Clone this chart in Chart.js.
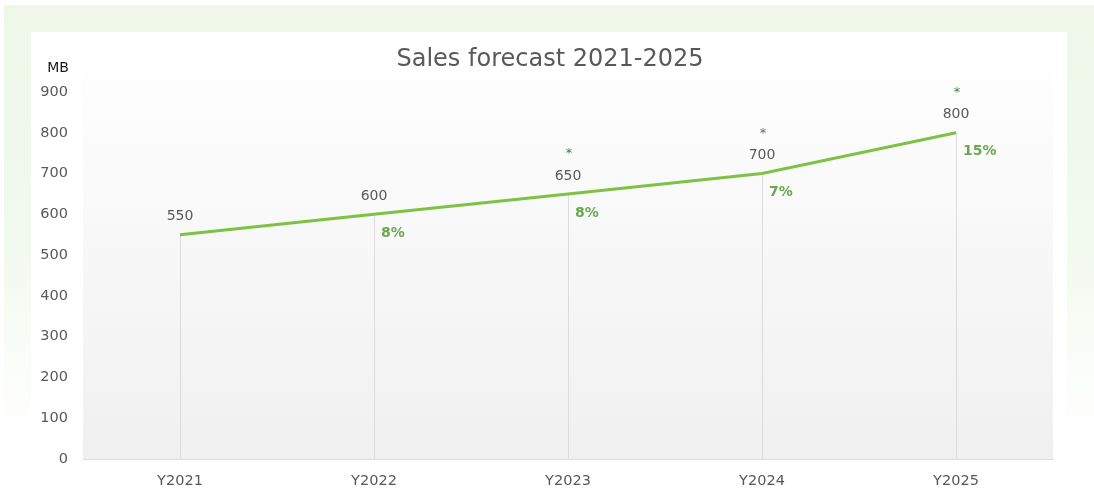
<!DOCTYPE html>
<html>
<head>
<meta charset="utf-8">
<script src="https://cdn.jsdelivr.net/npm/chart.js@4.4.0/dist/chart.umd.min.js"></script>
<style>
  html, body { margin: 0; padding: 0; background: #ffffff; }
  #wrap { width: 1094px; height: 488px; position: relative; }
</style>
</head>
<body>
<div id="wrap"><canvas id="c" width="1094" height="488"></canvas></div>
<script>
const categories = ['Y2021', 'Y2022', 'Y2023', 'Y2024', 'Y2025'];
const salesValues = [550, 600, 650, 700, 800];
const growthLabels = ['', '8%', '8%', '7%', '15%'];
const starMarks = ['', '', '*', '*', '*'];
const yTicks = [0, 100, 200, 300, 400, 500, 600, 700, 800, 900];

const FONT = '"DejaVu Sans", sans-serif';

const decorPlugin = {
  id: 'decor',
  beforeDraw(chart) {
    const ctx = chart.ctx;
    const W = chart.width, H = chart.height;
    const ca = chart.chartArea;
    ctx.save();
    ctx.fillStyle = '#ffffff';
    ctx.fillRect(0, 0, W, H);
    // outer green glow
    let g = ctx.createLinearGradient(0, 5, 0, 440);
    g.addColorStop(0, '#eef7e8');
    g.addColorStop(0.55, '#f2f9ee');
    g.addColorStop(1, '#ffffff');
    ctx.fillStyle = g;
    ctx.fillRect(4, 5, W - 4, H - 5);
    // white panel
    ctx.fillStyle = '#ffffff';
    ctx.fillRect(31, 32, 1036, H - 32);
    // plot area gradient
    g = ctx.createLinearGradient(0, 42, 0, ca.bottom);
    g.addColorStop(0, '#ffffff');
    g.addColorStop(1, '#f0f0f0');
    ctx.fillStyle = g;
    ctx.fillRect(ca.left, 42, ca.right - ca.left, ca.bottom - 42);
    // title
    ctx.fillStyle = '#595959';
    ctx.font = '24px ' + FONT;
    ctx.textAlign = 'center';
    ctx.textBaseline = 'middle';
    ctx.fillText('Sales forecast 2021-2025', 550, 60);
    // unit label
    ctx.fillStyle = '#1a1a1a';
    ctx.font = '14px ' + FONT;
    ctx.fillText('MB', 58, 68);
    ctx.restore();
  },
  beforeDatasetsDraw(chart) {
    const ctx = chart.ctx;
    const meta = chart.getDatasetMeta(0);
    const bottom = chart.chartArea.bottom;
    ctx.save();
    ctx.strokeStyle = '#dcdcdc';
    ctx.lineWidth = 1;
    meta.data.forEach((pt) => {
      const x = Math.round(pt.x) + 0.5;
      ctx.beginPath();
      ctx.moveTo(x, pt.y);
      ctx.lineTo(x, bottom);
      ctx.stroke();
    });
    ctx.restore();
  },
  afterDatasetsDraw(chart) {
    const ctx = chart.ctx;
    const meta = chart.getDatasetMeta(0);
    ctx.save();
    ctx.textBaseline = 'middle';
    meta.data.forEach((pt, i) => {
      // value label
      ctx.fillStyle = '#595959';
      ctx.font = '14px ' + FONT;
      ctx.textAlign = 'center';
      ctx.fillText(String(salesValues[i]), pt.x, pt.y - 18);
      // growth label
      if (growthLabels[i]) {
        ctx.fillStyle = '#6aa84f';
        ctx.font = 'bold 14px ' + FONT;
        ctx.textAlign = 'left';
        ctx.fillText(growthLabels[i], pt.x + 7, pt.y + 19);
      }
      // star mark
      if (starMarks[i]) {
        ctx.fillStyle = '#3f7f3a';
        ctx.font = '13px ' + FONT;
        ctx.textAlign = 'center';
        ctx.fillText(starMarks[i], pt.x + 1, pt.y - 40);
      }
    });
    ctx.restore();
  }
};

new Chart(document.getElementById('c'), {
  type: 'line',
  data: {
    labels: categories,
    datasets: [{
      data: salesValues,
      borderColor: '#7dc242',
      borderWidth: 3,
      pointRadius: 0,
      pointHoverRadius: 0,
      fill: false,
      tension: 0
    }]
  },
  options: {
    responsive: false,
    animation: false,
    events: [],
    layout: { padding: { left: 32, right: 41, top: 92, bottom: 0 } },
    plugins: {
      legend: { display: false },
      tooltip: { enabled: false },
      title: { display: false }
    },
    scales: {
      x: {
        offset: true,
        grid: { display: false, drawTicks: false },
        border: { display: true, color: '#e0dcd8', width: 1 },
        ticks: { color: '#595959', font: { family: FONT, size: 14.5 }, padding: 14 },
        afterFit(scale) { scale.height = 29; }
      },
      y: {
        min: 0,
        max: 900,
        afterBuildTicks(scale) { scale.ticks = yTicks.map(v => ({ value: v })); },
        grid: { display: false, drawTicks: false },
        border: { display: false },
        ticks: { color: '#595959', font: { family: FONT, size: 14.5 }, padding: 15 },
        afterFit(scale) { scale.width = 51; }
      }
    }
  },
  plugins: [decorPlugin]
});
</script>
</body>
</html>
